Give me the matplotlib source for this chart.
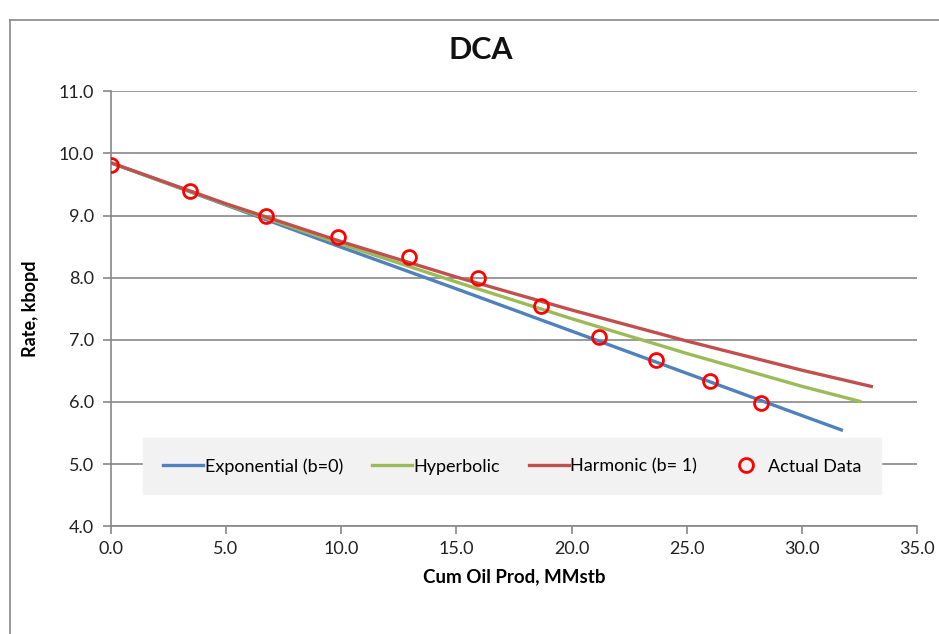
import numpy as np
import matplotlib.pyplot as plt
from matplotlib.lines import Line2D

plt.rcParams['font.family'] = ['Lato', 'DejaVu Sans']

# actual production data: cumulative oil (MMstb) vs rate (kbopd)
actual_cum = [0.0, 3.43, 6.73, 9.86, 12.94, 15.94, 18.67, 21.19, 23.66, 26.0, 28.22]
actual_rate = [9.82, 9.40, 9.00, 8.66, 8.33, 8.00, 7.54, 7.05, 6.67, 6.33, 5.98]

# decline curves
exp_cum = [0.0, 5.0, 10.0, 15.0, 20.0, 25.0, 30.0, 31.7]
exp_rate = [9.85, 9.17, 8.49, 7.82, 7.14, 6.46, 5.78, 5.55]

hyp_cum = [0.0, 5.0, 10.0, 15.0, 20.0, 25.0, 30.0, 32.5]
hyp_rate = [9.85, 9.18, 8.54, 7.93, 7.34, 6.78, 6.25, 6.01]

harm_cum = [0.0, 5.0, 10.0, 15.0, 20.0, 25.0, 30.0, 33.0]
harm_rate = [9.85, 9.19, 8.58, 8.01, 7.48, 6.98, 6.51, 6.25]

x_ticks = np.arange(0, 35.1, 5)
y_ticks = np.arange(4, 11.1, 1)

fig = plt.figure(figsize=(9.39, 6.34), dpi=100)
ax = fig.add_axes([0.118, 0.170, 0.859, 0.686])

# outer chart frame
fig.add_artist(Line2D([10 / 939, 10 / 939], [0, 1 - 20 / 634], color='#888888', lw=1.2))
fig.add_artist(Line2D([10 / 939, 1], [1 - 20 / 634, 1 - 20 / 634], color='#888888', lw=1.2))

ax.plot(exp_cum, exp_rate, color='#4f81bd', lw=2.4, label='Exponential (b=0)', zorder=3)
ax.plot(hyp_cum, hyp_rate, color='#9bbb59', lw=2.4, label='Hyperbolic', zorder=3)
ax.plot(harm_cum, harm_rate, color='#c0504d', lw=2.4, label='Harmonic (b= 1)', zorder=3)
ax.plot(actual_cum, actual_rate, 'o', ms=10, mfc='none', mec='#ff0000', mew=2,
        label='Actual Data', zorder=4)

ax.set_xlim(0, 35)
ax.set_ylim(4, 11)
ax.set_xticks(x_ticks)
ax.set_yticks(y_ticks)
ax.set_xticklabels([f'{v:.1f}' for v in x_ticks])
ax.set_yticklabels([f'{v:.1f}' for v in y_ticks])
ax.tick_params(axis='both', labelsize=13, length=6, width=1.2, direction='out',
               colors='#888888', labelcolor='#222222')
ax.tick_params(axis='x', pad=5)
ax.tick_params(axis='y', pad=6)

ax.grid(axis='y', color='#888888', lw=1.2)
ax.set_axisbelow(True)
for side in ['top', 'right']:
    ax.spines[side].set_visible(False)
for side in ['left', 'bottom']:
    ax.spines[side].set_color('#888888')
    ax.spines[side].set_linewidth(1.2)

fig.text(481 / 939, 1 - 50 / 634, 'DCA', fontsize=22, fontweight='bold',
         ha='center', va='center', color='#111111')
ax.set_xlabel('Cum Oil Prod, MMstb', fontsize=13.5, fontweight='bold', labelpad=8)
ax.set_ylabel('Rate, kbopd', fontsize=13, fontweight='bold', labelpad=14)

leg = ax.legend(loc='center', bbox_to_anchor=((512 - 111) / 806, (526 - 466) / 435),
                ncol=4, frameon=True, fontsize=13, handlelength=2.2, handletextpad=0.1,
                columnspacing=1.6, borderpad=1.1, fancybox=False)
leg.get_frame().set_facecolor('#f2f2f2')
leg.get_frame().set_edgecolor('#f2f2f2')
leg.get_frame().set_alpha(1)

fig.savefig('out.png', dpi=100)
